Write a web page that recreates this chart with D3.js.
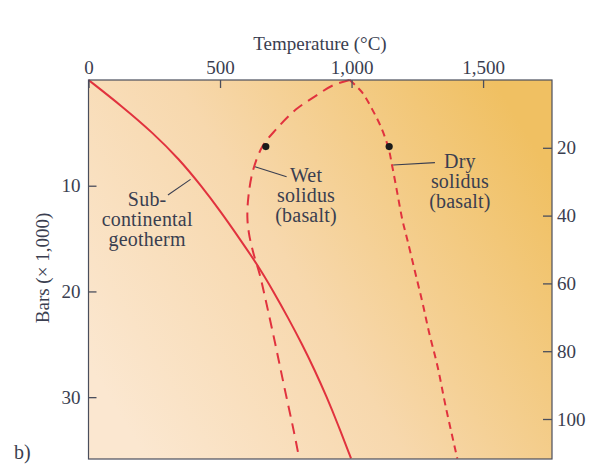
<!DOCTYPE html>
<html>
<head>
<meta charset="utf-8">
<script src="https://cdn.jsdelivr.net/npm/d3@7"></script>
<style>
  html, body { margin: 0; padding: 0; background: #ffffff; }
  svg { display: block; }
  text { font-family: "Liberation Serif", "Times New Roman", serif; fill: #3a3e50; }
</style>
</head>
<body>
<svg id="chart" width="591" height="464"></svg>
<script>
// ---- data (temperature °C, pressure kbar) ----
const tempTicks = [0, 500, 1000, 1500];
const barTicks = [10, 20, 30];
const depthTicks = [20, 40, 60, 80, 100];

const geothermT = [0, 128, 245, 345, 428, 504, 574, 643, 703, 759, 812, 861, 906, 947, 998];
const geothermP = [0, 2.5, 5, 7.5, 10, 12.5, 15, 17.5, 20, 22.5, 25, 27.5, 30, 32.5, 35.8];

const wetT = [993, 930, 864, 788, 712, 661, 626, 608, 604, 610, 625, 651, 677, 712, 744, 782, 801];
const wetP = [0, 0.5, 1.5, 2.8, 4.7, 6.3, 8.5, 11, 13, 14.5, 16.2, 18.4, 21.2, 25.2, 29.0, 33.4, 35.8];

const dryT = [993, 1041, 1079, 1111, 1140, 1155, 1174, 1193, 1212, 1240, 1270, 1295, 1327, 1358, 1402];
const dryP = [0, 1.2, 2.8, 4.4, 6.4, 8.2, 10.7, 13.2, 15.1, 18, 21.1, 23.9, 27.1, 30.9, 35.8];

const dotT = [674, 1143];
const dotP = [6.3, 6.3];

const labelLines = [["Sub-", "continental", "geotherm"], ["Wet", "solidus", "(basalt)"], ["Dry", "solidus", "(basalt)"]];
const labelT = [223, 827, 1412];
const labelP = [11.92, 9.65, 8.37];
const leaderT1 = [388, 633, 1158];
const leaderP1 = [9.4, 8.2, 8.04];
const leaderT2 = [302, 753, 1317];
const leaderP2 = [10.88, 9.15, 7.82];

// ---- layout ----
const svg = d3.select("#chart");
const mLeft = 88.5, mRight = 552, mTop = 80, mBottom = 459;
const x = d3.scaleLinear().domain([0, 1762]).range([mLeft, mRight]);
const y = d3.scaleLinear().domain([0, 35.85]).range([mTop, mBottom]);
const yDepth = d3.scaleLinear().domain([0, 111.8]).range([mTop, mBottom]);

const defs = svg.append("defs");
const grad = defs.append("linearGradient").attr("id", "bg")
  .attr("x1", "0").attr("y1", "0.75").attr("x2", "1").attr("y2", "0.25");
grad.append("stop").attr("offset", "0").attr("stop-color", "#fbe7d0");
grad.append("stop").attr("offset", "0.45").attr("stop-color", "#f7d8ad");
grad.append("stop").attr("offset", "1").attr("stop-color", "#f0c062");

svg.append("rect").attr("x", mLeft).attr("y", mTop)
  .attr("width", mRight - mLeft).attr("height", mBottom - mTop)
  .attr("fill", "url(#bg)");

const red = "#e1323e";
const line = d3.line().x(d => x(d[0])).y(d => y(d[1])).curve(d3.curveCatmullRom.alpha(0.5));
const smoothLine = d3.line().x(d => x(d[0])).y(d => y(d[1])).curve(d3.curveBasis);

const g = svg.append("g");
g.append("path").datum(geothermT.map((t, i) => [t, geothermP[i]]))
  .attr("d", smoothLine).attr("fill", "none").attr("stroke", red).attr("stroke-width", 2);
g.append("path").datum(wetT.map((t, i) => [t, wetP[i]]))
  .attr("d", line).attr("fill", "none").attr("stroke", red).attr("stroke-width", 2)
  .attr("stroke-dasharray", "11,7");
g.append("path").datum(dryT.map((t, i) => [t, dryP[i]]))
  .attr("d", line).attr("fill", "none").attr("stroke", red).attr("stroke-width", 2)
  .attr("stroke-dasharray", "7,5");

g.selectAll("circle.dot").data(dotT.map((t, i) => [t, dotP[i]])).enter()
  .append("circle").attr("class", "dot")
  .attr("cx", d => x(d[0])).attr("cy", d => y(d[1])).attr("r", 3.6).attr("fill", "#1a1a1a");

// leaders + labels
labelLines.forEach((lines, i) => {
  svg.append("line")
    .attr("x1", x(leaderT1[i])).attr("y1", y(leaderP1[i]))
    .attr("x2", x(leaderT2[i])).attr("y2", y(leaderP2[i]))
    .attr("stroke", "#3a3e50").attr("stroke-width", 1.1);
  const t = svg.append("text").attr("text-anchor", "middle").attr("font-size", 20)
    .attr("letter-spacing", 0.2);
  lines.forEach((s, j) => {
    t.append("tspan").attr("x", x(labelT[i])).attr("y", y(labelP[i]) + j * 20).text(s);
  });
});

// frame
svg.append("rect").attr("x", mLeft).attr("y", mTop)
  .attr("width", mRight - mLeft).attr("height", mBottom - mTop)
  .attr("fill", "none").attr("stroke", "#4a4e5c").attr("stroke-width", 1.2);

// axes
const fmt = d3.format(",");
const topAxis = d3.axisTop(x).tickValues(tempTicks).tickFormat(fmt).tickSize(-8).tickPadding(6);
const gt = svg.append("g").attr("transform", `translate(0,${mTop})`).call(topAxis);

const leftAxis = d3.axisLeft(y).tickValues(barTicks).tickSize(-8).tickPadding(8);
const gl = svg.append("g").attr("transform", `translate(${mLeft},0)`).call(leftAxis);

const rightAxis = d3.axisRight(yDepth).tickValues(depthTicks).tickSize(-9).tickPadding(5);
const gr = svg.append("g").attr("transform", `translate(${mRight},0)`).call(rightAxis);

[gt, gl, gr].forEach(a => {
  a.select(".domain").remove();
  a.selectAll(".tick line").attr("stroke", "#4a4e5c").attr("stroke-width", 1.3);
  a.selectAll(".tick text").attr("font-size", 19).attr("fill", "#3a3e50")
    .attr("font-family", "Liberation Serif, serif");
});

// titles
svg.append("text").attr("x", 320).attr("y", 50).attr("text-anchor", "middle")
  .attr("font-size", 19).text("Temperature (°C)");
svg.append("text").attr("transform", "translate(49,268) rotate(-90)")
  .attr("text-anchor", "middle").attr("font-size", 19).text("Bars (× 1,000)");
svg.append("text").attr("x", 14).attr("y", 459).attr("font-size", 20).text("b)");
</script>
</body>
</html>
